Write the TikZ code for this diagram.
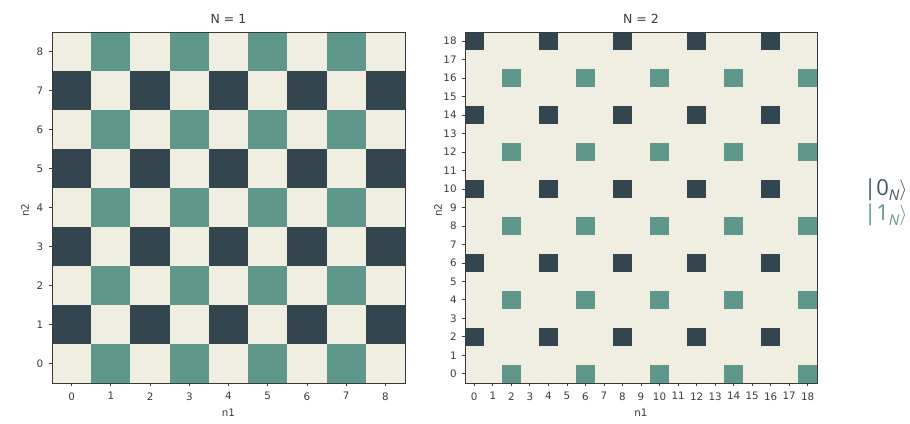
\documentclass[tikz,border=0pt]{standalone}
\usepackage{fontspec}
\setmainfont{DejaVu Sans}
\newfontfamily\legfont{Open Sans}
\definecolor{cream}{HTML}{F0EEE0}
\definecolor{cellgreen}{HTML}{5F978B}
\definecolor{celldark}{HTML}{33454F}
\definecolor{legdark}{HTML}{45545D}
\definecolor{axisgray}{HTML}{3A3A3A}
\begin{document}
\begin{tikzpicture}[x=1pt,y=1pt,
  ticklab/.style={font=\fontsize{10.3}{12}\selectfont, text=axisgray, inner sep=0pt},
  tickmark/.style={draw=axisgray, line width=0.8pt},
  axframe/.style={draw=axisgray, line width=0.9pt},
  titletext/.style={font=\fontsize{12.5}{15}\selectfont, text=axisgray, inner sep=0pt, anchor=base},
  axlabel/.style={font=\fontsize{10.3}{12}\selectfont, text=axisgray, inner sep=0pt},
  legtext/.style={font=\legfont\fontsize{22}{26}\selectfont, inner sep=0pt, anchor=base west}]
\useasboundingbox (0,0) rectangle (910,423);
\clip (0,0) rectangle (910,423);
% ---------- left plot (N = 1)
\begin{scope}[shift={(52,40)}, x=39.222pt, y=39pt]
  \fill[cream] (0,0) rectangle (9,9);
  \foreach \i in {0,...,8}{
    \foreach \j in {0,...,8}{
      \pgfmathtruncatemacro{\a}{mod(\i,2)}
      \pgfmathtruncatemacro{\b}{mod(\j,2)}
      \ifnum\a=0 \ifnum\b=1 \fill[celldark] (\i,\j) rectangle ++(1,1); \fi\fi
      \ifnum\a=1 \ifnum\b=0 \fill[cellgreen] (\i,\j) rectangle ++(1,1); \fi\fi
    }
  }
  \draw[axframe] (0,0) rectangle (9,9);
  \foreach \i in {0,...,8}{
    \draw[tickmark] (\i+0.5,0) -- ++(0,-3.5pt) node[ticklab, below=5.5pt] (ax\i) {\i};
    \draw[tickmark] (0,\i+0.5) -- ++(-3.5pt,0) node[ticklab, left=5pt] (ay\i) {\i};
  }
\end{scope}
\node[titletext] (t1) at (228.5,399) {N = 1};
\node[axlabel] (xl1) at (228.5,10) {n1};
\node[axlabel, rotate=90] (yl1) at (25,213) {n2};
% ---------- right plot (N = 2)
\begin{scope}[shift={(465,40)}, x=18.526pt, y=18.474pt]
  \fill[cream] (0,0) rectangle (19,19);
  \foreach \i in {0,4,...,16}{
    \foreach \j in {2,6,...,18}{
      \fill[celldark] (\i,\j) rectangle ++(1,1);
    }
  }
  \foreach \i in {2,6,...,18}{
    \foreach \j in {0,4,...,16}{
      \fill[cellgreen] (\i,\j) rectangle ++(1,1);
    }
  }
  \draw[axframe] (0,0) rectangle (19,19);
  \foreach \i in {0,...,18}{
    \draw[tickmark] (\i+0.5,0) -- ++(0,-3.5pt) node[ticklab, below=5.5pt] (bx\i) {\i};
    \draw[tickmark] (0,\i+0.5) -- ++(-3.5pt,0) node[ticklab, left=4.5pt] (by\i) {\i};
  }
\end{scope}
\node[titletext] (t2) at (641,399) {N = 2};
\node[axlabel] (xl2) at (641,10) {n1};
\node[axlabel, rotate=90] (yl2) at (438,213) {n2};
% ---------- legend (cut off at the right edge, as in the reference)
\node[legtext, text=legdark] (k0) at (864,227) {|0\raisebox{-4.5pt}{\fontsize{15}{15}\selectfont\itshape N}$\rangle$};
\node[legtext, text=cellgreen] (k1) at (864,202) {|1\raisebox{-4.5pt}{\fontsize{15}{15}\selectfont\itshape N}$\rangle$};
\end{tikzpicture}
\end{document}
